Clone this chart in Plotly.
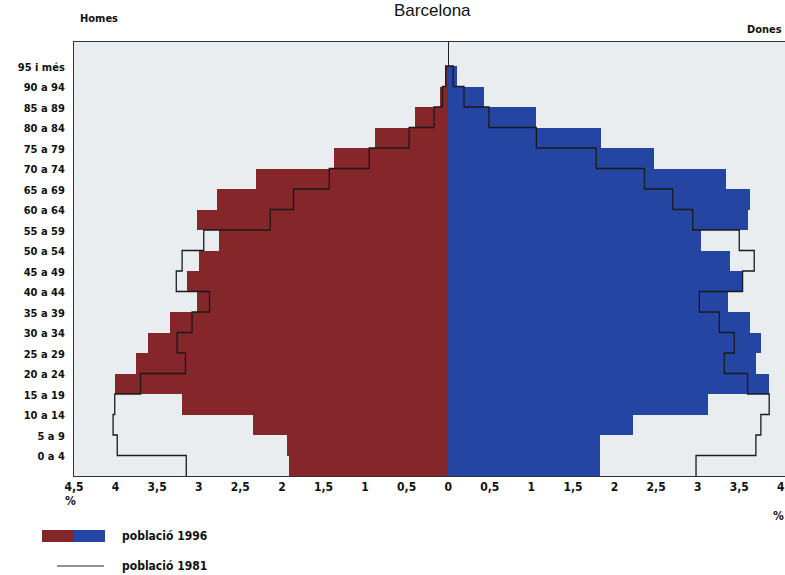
import plotly.graph_objects as go

age_groups = ["0 a 4", "5 a 9", "10 a 14", "15 a 19", "20 a 24", "25 a 29", "30 a 34",
              "35 a 39", "40 a 44", "45 a 49", "50 a 54", "55 a 59", "60 a 64", "65 a 69",
              "70 a 74", "75 a 79", "80 a 84", "85 a 89", "90 a 94", "95 i més"]

homes_1996 = [1.92, 1.94, 2.35, 3.20, 4.01, 3.75, 3.61, 3.34, 3.02, 3.14,
              3.00, 2.76, 3.02, 2.78, 2.31, 1.37, 0.88, 0.40, 0.10, 0.04]
homes_1981 = [3.15, 3.98, 4.03, 4.01, 3.70, 3.16, 3.26, 3.08, 2.87, 3.27,
              3.20, 2.94, 2.14, 1.86, 1.43, 0.95, 0.47, 0.17, 0.07, 0.03]
dones_1996 = [1.83, 1.83, 2.22, 3.12, 3.86, 3.70, 3.76, 3.63, 3.36, 3.55,
              3.39, 3.04, 3.60, 3.63, 3.34, 2.48, 1.84, 1.05, 0.43, 0.11]
dones_1981 = [2.98, 3.70, 3.76, 3.86, 3.60, 3.32, 3.44, 3.26, 3.02, 3.54,
              3.68, 3.50, 2.94, 2.70, 2.36, 1.78, 1.06, 0.49, 0.19, 0.06]

x_tickvals = [-4.5, -4, -3.5, -3, -2.5, -2, -1.5, -1, -0.5, 0, 0.5, 1, 1.5, 2, 2.5, 3, 3.5, 4]
x_ticktext = ["4,5", "4", "3,5", "3", "2,5", "2", "1,5", "1", "0,5", "0",
              "0,5", "1", "1,5", "2", "2,5", "3", "3,5", "4"]

RED = "#84262a"
BLUE = "#2545a3"
BG = "#eaedf0"
FONT = "Liberation Sans Narrow, DejaVu Sans Condensed, Roboto Condensed, Arial Narrow, sans-serif"

pos = list(range(len(age_groups)))


def step_outline(values, sign):
    xs, ys = [], []
    for i, v in enumerate(values):
        xs += [sign * v, sign * v]
        ys += [i - 0.5, i + 0.5]
    xs.append(0)
    ys.append(len(values) - 0.5)
    return xs, ys


fig = go.Figure()
fig.add_trace(go.Bar(y=pos, x=[-v for v in homes_1996], orientation="h", width=1,
                     marker=dict(color=RED, line=dict(width=0)), name="Homes 1996",
                     showlegend=False))
fig.add_trace(go.Bar(y=pos, x=dones_1996, orientation="h", width=1,
                     marker=dict(color=BLUE, line=dict(width=0)), name="Dones 1996",
                     showlegend=False))
hx, hy = step_outline(homes_1981, -1)
dx, dy = step_outline(dones_1981, 1)
fig.add_trace(go.Scatter(x=hx, y=hy, mode="lines", line=dict(color="#1a1a1a", width=1.3),
                         showlegend=False))
fig.add_trace(go.Scatter(x=dx, y=dy, mode="lines", line=dict(color="#1a1a1a", width=1.3),
                         showlegend=False))

L, T, W, H = 74, 42, 711, 434


def px(xp):
    return (xp - L) / W


def py(yp):
    return (T + H - yp) / H


fig.update_layout(
    width=785, height=575,
    margin=dict(l=L, r=785 - L - W, t=T, b=575 - T - H),
    paper_bgcolor="white", plot_bgcolor=BG,
    barmode="overlay", bargap=0,
    showlegend=False,
    font=dict(family=FONT, size=12, color="#111"),
)
fig.update_xaxes(range=[-4.5, 4.05], tickvals=x_tickvals, ticktext=x_ticktext,
                 showgrid=False, zeroline=True, zerolinecolor="#222", zerolinewidth=1,
                 showline=True, mirror=True, linecolor="#333", linewidth=1,
                 ticks="", ticklabelstandoff=0, ticklabeloverflow="allow",
                 tickfont=dict(family=FONT, size=12, weight="bold", color="#111"))
fig.update_yaxes(range=[-0.5, -0.5 + H / 20.5], tickvals=[p + 0.45 for p in pos],
                 ticktext=age_groups, showgrid=False, zeroline=False,
                 showline=True, linecolor="#333", linewidth=1, ticks="",
                 ticklabelstandoff=6,
                 tickfont=dict(family=FONT, size=11, weight="bold", color="#111"))

ann = [
    dict(text="Barcelona", x=px(432), y=py(10), xanchor="center", yanchor="middle",
         font=dict(family="Liberation Sans, Arial, sans-serif", size=17, color="#111")),
    dict(text="Homes", x=px(78), y=py(18), xanchor="left", yanchor="middle",
         font=dict(family=FONT, size=11, weight="bold", color="#111")),
    dict(text="Dones", x=px(745), y=py(30), xanchor="left", yanchor="middle",
         font=dict(family=FONT, size=11, weight="bold", color="#111")),
    dict(text="%", x=px(70), y=py(501), xanchor="center", yanchor="middle",
         font=dict(family=FONT, size=12, weight="bold", color="#111")),
    dict(text="%", x=px(778), y=py(516), xanchor="center", yanchor="middle",
         font=dict(family=FONT, size=12, weight="bold", color="#111")),
    dict(text="població 1996", x=px(120), y=py(536), xanchor="left", yanchor="middle",
         font=dict(family=FONT, size=12, weight="bold", color="#111")),
    dict(text="població 1981", x=px(120), y=py(566), xanchor="left", yanchor="middle",
         font=dict(family=FONT, size=12, weight="bold", color="#111")),
]
for a in ann:
    a.update(xref="paper", yref="paper", showarrow=False)
fig.update_layout(annotations=ann)

fig.update_layout(shapes=[
    dict(type="rect", xref="paper", yref="paper", x0=px(42), x1=px(74), y0=py(542), y1=py(530),
         fillcolor=RED, line=dict(width=0)),
    dict(type="rect", xref="paper", yref="paper", x0=px(74), x1=px(105), y0=py(542), y1=py(530),
         fillcolor=BLUE, line=dict(width=0)),
    dict(type="line", xref="paper", yref="paper", x0=px(57), x1=px(104), y0=py(566), y1=py(566),
         line=dict(color="#222", width=1.2)),
])

fig.write_html("out.html", config={"displayModeBar": False},
               post_script="document.body.style.margin='0px';document.body.style.overflow='hidden';")
